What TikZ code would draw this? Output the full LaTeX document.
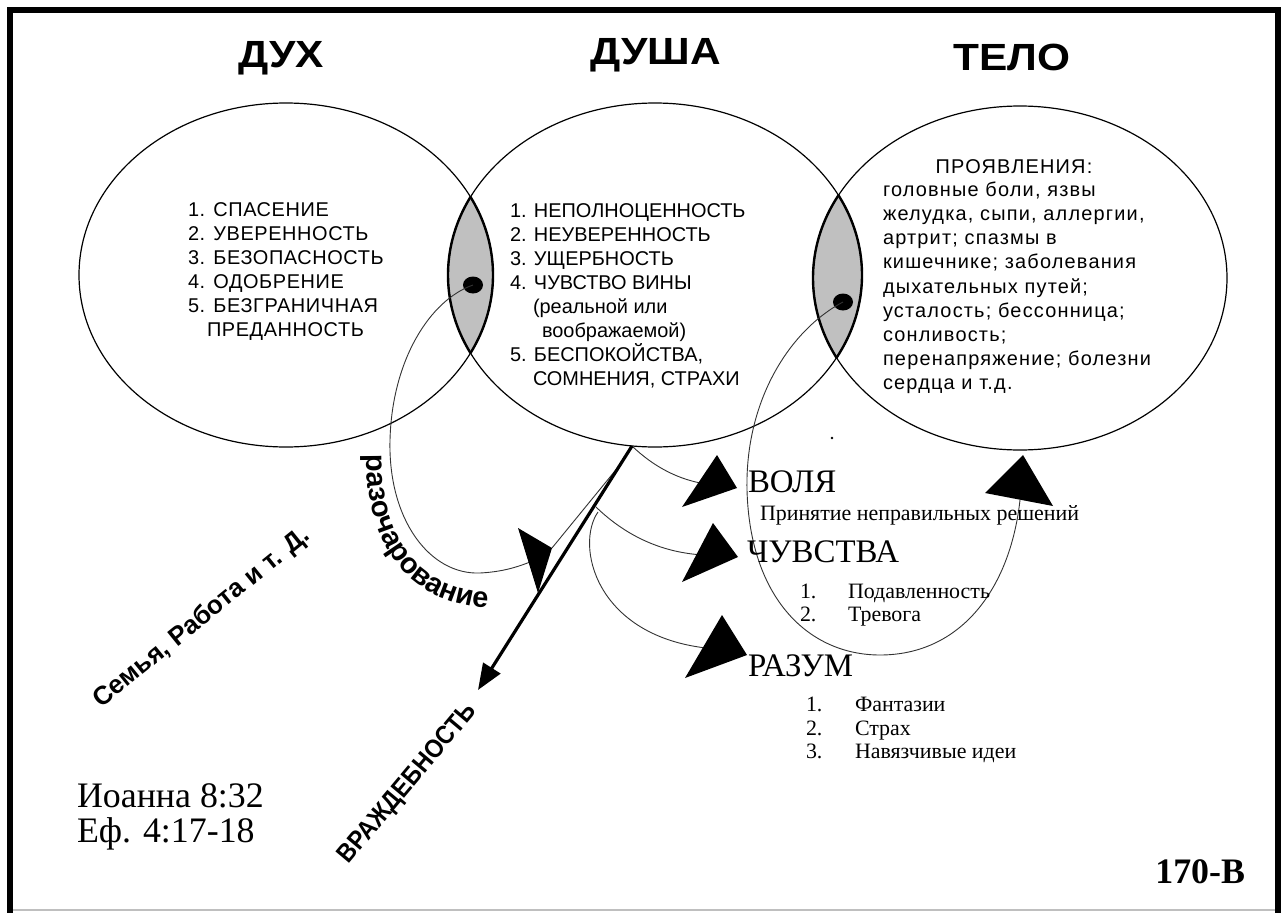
\documentclass[tikz,border=0pt]{standalone}
\usepackage{fontspec}
\setmainfont{Liberation Serif}
\setsansfont{Liberation Sans}
\newfontfamily\widesans[LetterSpace=6]{Liberation Sans}
\newfontfamily\semisans[LetterSpace=3]{Liberation Sans}
\usetikzlibrary{arrows.meta,decorations.text,shapes.geometric}
\definecolor{lensgray}{RGB}{192,192,192}
\begin{document}
\begin{tikzpicture}[x=1bp,y=-1bp,
  every node/.style={inner sep=0pt, outer sep=0pt},
  title/.style={font=\sffamily\bfseries\fontsize{38}{38}\selectfont, anchor=base, xscale=1.12},
  sanst/.style={font=\sffamily\fontsize{20}{24}\selectfont, anchor=base west},
  sansl/.style={font=\semisans\fontsize{20}{24}\selectfont, anchor=base west},
  sansr/.style={font=\widesans\fontsize{20}{24}\selectfont, anchor=base west},
  seriflist/.style={font=\rmfamily\fontsize{22}{24}\selectfont, anchor=base west},
  bigserif/.style={font=\rmfamily\fontsize{33}{33}\selectfont, anchor=base west},
  ref/.style={font=\rmfamily\fontsize{36}{36}\selectfont, anchor=base west},
  slanted/.style={font=\sffamily\bfseries\fontsize{26}{26}\selectfont},
  ring/.style={draw=black, line width=1.2bp},
  lensline/.style={draw=black, line width=2.4bp},
  conn/.style={draw=black!80, line width=0.9bp},
  headfill/.style={fill=black},
  dotn/.style={ellipse, fill=black, minimum width=20bp, minimum height=17bp},
]
\useasboundingbox (0,0) rectangle (1285,913);
\fill[white] (0,0) rectangle (1285,913);
% frame
\fill[black] (7,7) rectangle (1281,13);
\fill[black] (7,7) rectangle (13,913);
\fill[black] (1275,7) rectangle (1281,913);
\draw[black!25, line width=1.5bp] (13,910) -- (1275,910);

% centres
\coordinate (cS) at (286,275);
\coordinate (cD) at (655,275);
\coordinate (cT) at (1020,278);

% lens fills
\begin{scope}
  \clip (cS) ellipse [x radius=207, y radius=172];
  \fill[lensgray] (cD) ellipse [x radius=207, y radius=172];
\end{scope}
\begin{scope}
  \clip (cD) ellipse [x radius=207, y radius=172];
  \fill[lensgray] (cT) ellipse [x radius=207, y radius=172];
\end{scope}

% ellipses
\draw[ring] (cS) ellipse [x radius=207, y radius=172];
\draw[ring] (cD) ellipse [x radius=207, y radius=172];
\draw[ring] (cT) ellipse [x radius=207, y radius=172];

% lens outlines
\begin{scope}
  \clip (cS) ellipse [x radius=207, y radius=172];
  \draw[lensline] (cD) ellipse [x radius=207, y radius=172];
\end{scope}
\begin{scope}
  \clip (cD) ellipse [x radius=207, y radius=172];
  \draw[lensline] (cS) ellipse [x radius=207, y radius=172];
  \draw[lensline] (cT) ellipse [x radius=207, y radius=172];
\end{scope}
\begin{scope}
  \clip (cT) ellipse [x radius=207, y radius=172];
  \draw[lensline] (cD) ellipse [x radius=207, y radius=172];
\end{scope}

% titles
\node[title] (tS) at (281,67) {ДУХ};
\node[title] (tD) at (656,64) {ДУША};
\node[title] (tT) at (1012,70) {ТЕЛО};

% spirit list
\node[sansl] (s1) at (188,216) {1. СПАСЕНИЕ};
\node[sansl] (s2) at (188,240) {2. УВЕРЕННОСТЬ};
\node[sansl] (s3) at (188,264) {3. БЕЗОПАСНОСТЬ};
\node[sansl] (s4) at (188,288) {4. ОДОБРЕНИЕ};
\node[sansl] (s5) at (188,312) {5. БЕЗГРАНИЧНАЯ};
\node[sansl] (s6) at (207,336) {ПРЕДАННОСТЬ};

% soul list
\node[sanst] (d1) at (510,217) {1. НЕПОЛНОЦЕННОСТЬ};
\node[sanst] (d2) at (510,241) {2. НЕУВЕРЕННОСТЬ};
\node[sanst] (d3) at (510,265) {3. УЩЕРБНОСТЬ};
\node[sanst] (d4) at (510,289) {4. ЧУВСТВО ВИНЫ};
\node[sanst] (d5) at (533,313) {(реальной или};
\node[sanst] (d6) at (542,337) {воображаемой)};
\node[sanst] (d7) at (510,361) {5. БЕСПОКОЙСТВА,};
\node[sanst] (d8) at (533,385) {СОМНЕНИЯ, СТРАХИ};

% body list
\node[sansr, anchor=base] (b0) at (1014,173) {ПРОЯВЛЕНИЯ:};
\node[sansr] (b1) at (883,196) {головные боли, язвы};
\node[sansr] (b2) at (883,220) {желудка, сыпи, аллергии,};
\node[sansr] (b3) at (883,244) {артрит; спазмы в};
\node[sansr] (b4) at (883,268) {кишечнике; заболевания};
\node[sansr] (b5) at (883,293) {дыхательных путей;};
\node[sansr] (b6) at (883,317) {усталость; бессонница;};
\node[sansr] (b7) at (883,341) {сонливость;};
\node[sansr] (b8) at (883,365) {перенапряжение; болезни};
\node[sansr] (b9) at (883,389) {сердца и т.д.};

% dots in lenses
\node[dotn] (dotL) at (473,285) {};
\node[dotn] (dotR) at (843,302) {};
\fill (832,438) circle (1.3);

% connector end points
\coordinate (soulB) at (632,446);
\coordinate (vragTip) at (478,690);
\coordinate (e1) at (706,484);
\coordinate (e2) at (704,555);
\coordinate (e3) at (706,648);
\coordinate (e4) at (1020,500);
\coordinate (e5) at (530,562);
\coordinate (w1) at (619,466);

% thin connectors
\draw[conn] (soulB) .. controls (655,468) and (680,480) .. (e1);
\draw[conn] (596,507) .. controls (628,538) and (665,553) .. (e2);
\draw[conn] (598,512) .. controls (575,545) and (595,635) .. (e3);
\draw[conn] (dotL.center) .. controls (430,300) and (392,360) .. (390,440)
   .. controls (388,520) and (430,575) .. (480,573)
   .. controls (500,572) and (515,568) .. (e5);
\draw[conn] (dotR.center) .. controls (790,330) and (745,400) .. (747,490)
   .. controls (750,600) and (810,655) .. (880,655)
   .. controls (960,655) and (1010,590) .. (e4);
\draw[conn] (552,548) -- (w1);

% big arrowheads
\fill[headfill] (717,455) -- (737,488) -- (682,507) -- cycle;
\fill[headfill] (713,523) -- (738,557) -- (682,582) -- cycle;
\fill[headfill] (722,615) -- (747,655) -- (685,678) -- cycle;
\fill[headfill] (1023,455) -- (985,493) -- (1053,506) -- cycle;
\fill[headfill] (518,528) -- (552,548) -- (538,593) -- cycle;

% thick arrow
\draw[line width=3.2bp, -{Triangle[length=26bp,width=20bp]}] (soulB) -- (vragTip);

% labels right
\node[bigserif] (vol) at (748,492) {ВОЛЯ};
\node[seriflist] (vol1) at (760,520) {Принятие неправильных решений};
\node[bigserif] (chu) at (747,562) {ЧУВСТВА};
\node[seriflist] (c1n) at (800,598) {1.};
\node[seriflist] (c1) at (848,598) {Подавленность};
\node[seriflist] (c2n) at (800,621) {2.};
\node[seriflist] (c2) at (848,621) {Тревога};
\node[bigserif] (raz) at (748,676) {РАЗУМ};
\node[seriflist] (r1n) at (806,711) {1.};
\node[seriflist] (r1) at (855,711) {Фантазии};
\node[seriflist] (r2n) at (806,735) {2.};
\node[seriflist] (r2) at (855,735) {Страх};
\node[seriflist] (r3n) at (806,758) {3.};
\node[seriflist] (r3) at (855,758) {Навязчивые идеи};

% rotated / curved labels
\path[decorate, decoration={text along path, text align=center,
  text={|\sffamily\bfseries\fontsize{29}{29}\selectfont|разочарование}}]
  (368,436) .. controls (358,540) and (410,614) .. (506,607);
\node[slanted, rotate=39] (fam) at (202,618) {Семья, Работа и т. Д.};
\node[slanted, rotate=50, xscale=0.9] (vrag) at (408,784) {ВРАЖДЕБНОСТЬ};

% references
\node[ref] (ioann) at (77,807) {Иоанна 8:32};
\node[ref] (ef) at (77,842) {Еф. 4:17-18};
\node[font=\rmfamily\bfseries\fontsize{36}{36}\selectfont, anchor=base east] (num) at (1245,883) {170-В};
\end{tikzpicture}
\end{document}
